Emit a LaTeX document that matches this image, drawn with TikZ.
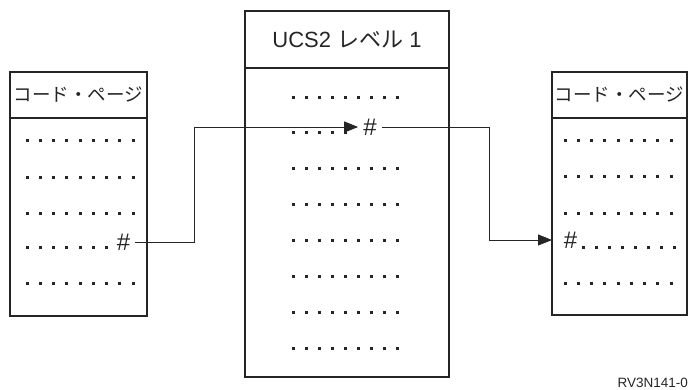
\documentclass[tikz,border=0pt]{standalone}
\usepackage{fontspec}
\setmainfont{Liberation Sans}
\newfontfamily\cjk{Noto Sans CJK JP}
\usetikzlibrary{arrows.meta}
\definecolor{ln}{HTML}{252525}
\tikzset{
  box/.style={draw=ln, line width=1.6pt, anchor=north west, inner sep=0pt, outer sep=0pt, text=ln},
  hashmark/.style={inner xsep=5pt, inner ysep=0pt, text=ln, font=\fontsize{24}{24}\selectfont},
  conn/.style={draw=ln, line width=0.9pt},
  tipped/.style={-{Triangle[length=14pt,width=11pt]}},
  kana/.style={font=\cjk\fontsize{18.5}{20}\selectfont}
}
\newcommand\dotrow[4]{\foreach \i in {1,...,#3}{\fill[ln] ({#1+(\i-1)*#4-1.5},{#2-1.5}) rectangle ++(3,3);}}
\begin{document}
\begin{tikzpicture}[x=1pt,y=-1pt]
\useasboundingbox (0,0) rectangle (688,389);
% left code page
\node[box, kana, minimum width=137pt, minimum height=46pt] (lhead) at (10,72) {コード・ページ};
\node[box, minimum width=137pt, minimum height=198pt] (lbody) at (10,118) {};
% middle UCS2
\node[box, minimum width=204pt, minimum height=57pt, font=\fontsize{22}{24}\selectfont] (mhead) at (245,11) {\raisebox{-2pt}{UCS2 {\cjk レベル} 1}};
\node[box, minimum width=204pt, minimum height=309pt] (mbody) at (245,68) {};
% right code page
\node[box, kana, minimum width=135pt, minimum height=46pt] (rhead) at (552,72) {コード・ページ};
\node[box, minimum width=135pt, minimum height=197pt] (rbody) at (552,118) {};
% dots left
\foreach \y in {140,177,213,283}{\dotrow{27}{\y}{9}{13.25}}
\dotrow{27}{247}{7}{13.25}
% dots middle
\foreach \y in {97,168,204,240,276,312,348}{\dotrow{293}{\y}{9}{13.1}}
\dotrow{293}{132}{5}{13.1}
% dots right
\foreach \y in {140,176,213,283}{\dotrow{565}{\y}{9}{13.25}}
\dotrow{583}{247}{8}{13}
% hash marks
\node[hashmark] (lh) at (123.5,242) {\#};
\node[hashmark] (mh) at (370,127) {\#};
\node[hashmark] (rh) at (570.5,240) {\#};
% bend coordinates
\coordinate (c1) at (194,0);
\coordinate (c2) at (489,0);
% connectors
\draw[conn, tipped] (lh.east) -- (lh.east -| c1) |- (mh.west);
\draw[conn, tipped] (mh.east) -- (mh.east -| c2) |- (rh.west -| rbody.west);
% figure id
\node[anchor=east, inner sep=0pt, text=ln, font=\fontsize{13.5}{14}\selectfont] (figid) at (688,383) {RV3N141-0};
\end{tikzpicture}
\end{document}
